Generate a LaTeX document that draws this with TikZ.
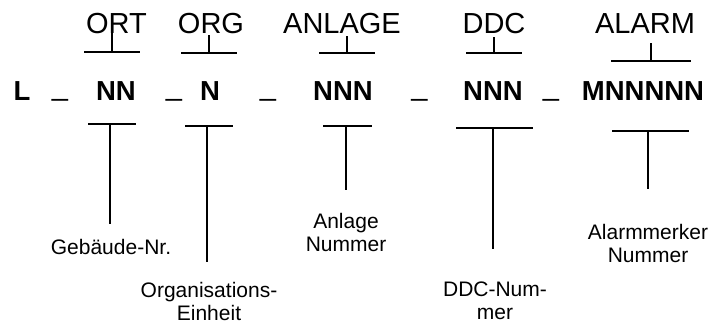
\documentclass[tikz,border=0pt]{standalone}
\usepackage{fontspec}
\setmainfont{Liberation Sans}

\tikzset{
    feld/.style={anchor=base, inner sep=0pt, font=\fontsize{29}{33}\selectfont},
    code/.style={anchor=base, inner sep=0pt, font=\fontsize{27.5}{31}\selectfont\bfseries},
    trenner/.style={anchor=base, inner sep=0pt, font=\fontsize{29}{33}\selectfont},
    info/.style={anchor=base, inner sep=0pt, align=center, font=\fontsize{21}{23}\selectfont},
    balken/.style={line width=2.8pt},
    stiel/.style={line width=2.4pt}
}

\begin{document}
\begin{tikzpicture}[x=1pt, y=-1pt]

        \useasboundingbox (0,0) rectangle (713,324);

        %Feldnamen oben
        \node[feld] (ort)    at (116.5,33) {ORT};
        \node[feld] (org)    at (211,33)   {ORG};
        \node[feld] (anlage) at (342,33)   {ANLAGE};
        \node[feld] (ddc)    at (494,33)   {DDC};
        \node[feld] (alarm)  at (645,33)   {ALARM};

        %Klammern oben
        \coordinate (tort)    at (112,52);
        \coordinate (torg)    at (209,53);
        \coordinate (tanlage) at (347,53);
        \coordinate (tddc)    at (494,53);
        \coordinate (talarm)  at (651,61);
        \draw[balken] ([xshift=-28]tort) -- ([xshift=28]tort);
        \draw[stiel]  (tort) -- ++(0,-19);
        \draw[balken] ([xshift=-28]torg) -- ([xshift=28]torg);
        \draw[stiel]  (torg) -- ++(0,-18);
        \draw[balken] ([xshift=-28]tanlage) -- ([xshift=28]tanlage);
        \draw[stiel]  (tanlage) -- ++(0,-17);
        \draw[balken] ([xshift=-28]tddc) -- ([xshift=28]tddc);
        \draw[stiel]  (tddc) -- ++(0,-16);
        \draw[balken] ([xshift=-40]talarm) -- ([xshift=40]talarm);
        \draw[stiel]  (talarm) -- ++(0,-18);

        %Schluessel
        \node[code] (l)    at (22,100)  {L};
        \node[trenner] (s1) at (60,95)   {\_};
        \node[code] (nn)   at (116,100) {NN};
        \node[trenner] (s2) at (174,95)  {\_};
        \node[code] (n)    at (210,100) {N};
        \node[trenner] (s3) at (268,95)  {\_};
        \node[code] (nnn)  at (343,100) {NNN};
        \node[trenner] (s4) at (419.5,95) {\_};
        \node[code] (ddcn) at (493,100) {NNN};
        \node[trenner] (s5) at (551,95)  {\_};
        \node[code] (mn)   at (643,100) {MNNNNN};

        %Klammern unten
        \coordinate (bgeb) at (112,124);
        \coordinate (borg) at (209,126);
        \coordinate (banl) at (347.5,126);
        \coordinate (bddc) at (494.5,128);
        \coordinate (balm) at (650.5,131);
        \draw[balken] ([xshift=-24]bgeb) -- ([xshift=24]bgeb);
        \draw[stiel]  ([xshift=-2]bgeb) -- (110,224);
        \draw[balken] ([xshift=-24]borg) -- ([xshift=24]borg);
        \draw[stiel]  ([xshift=-2]borg) -- (207,262);
        \draw[balken] ([xshift=-24.5]banl) -- ([xshift=24.5]banl);
        \draw[stiel]  ([xshift=-1.5]banl) -- (346,190);
        \draw[balken] ([xshift=-38.5]bddc) -- ([xshift=38.5]bddc);
        \draw[stiel]  ([xshift=-1.5]bddc) -- (493,249);
        \draw[balken] ([xshift=-38.5]balm) -- ([xshift=38.5]balm);
        \draw[stiel]  ([xshift=-2.5]balm) -- (648,189);

        %Erklaerungen unten
        \node[info] (geb)  at (111,254) {Gebäude-Nr.};
        \node[info] (orge) at (209,320) {Organisations-\\Einheit};
        \node[info] (anln) at (346,251) {Anlage\\Nummer};
        \node[info] (ddcm) at (495,319) {DDC-Num-\\mer};
        \node[info] (alnr) at (648,262) {Alarmmerker\\Nummer};

\end{tikzpicture}
\end{document}
